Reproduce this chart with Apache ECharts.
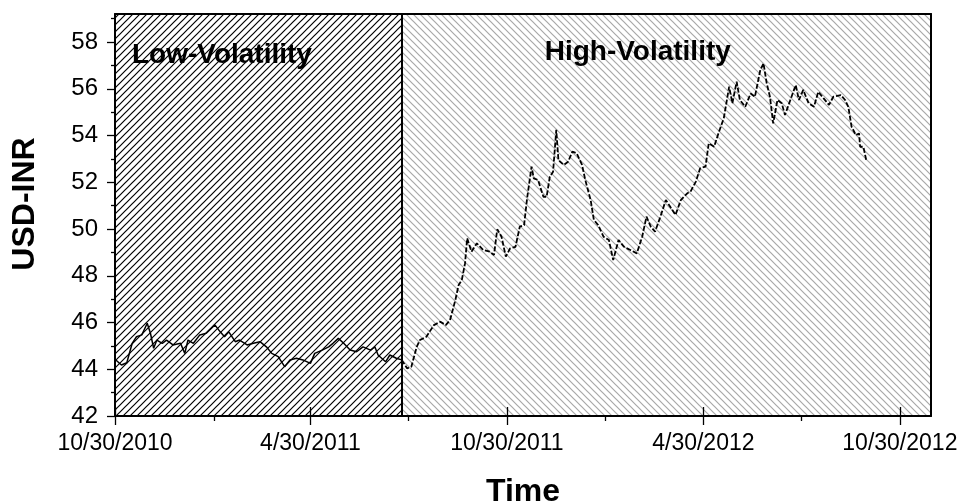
<!DOCTYPE html>
<html>
<head>
<meta charset="utf-8">
<script src="https://cdn.jsdelivr.net/npm/echarts@6/dist/echarts.min.js"></script>
<style>
  html, body { margin: 0; padding: 0; background: #fff; }
  #chart { width: 963px; height: 503px; }
</style>
</head>
<body>
<div id="chart"></div>
<script>
// low-volatility period (solid line)
const lowDates = [
  '2010-10-30', '2010-11-05', '2010-11-10', '2010-11-15', '2010-11-19', '2010-11-24', '2010-11-29',
  '2010-12-02', '2010-12-05', '2010-12-08', '2010-12-13', '2010-12-17', '2010-12-23', '2010-12-30',
  '2011-01-03', '2011-01-06', '2011-01-11', '2011-01-17', '2011-01-23', '2011-01-31',
  '2011-02-05', '2011-02-09', '2011-02-13', '2011-02-19', '2011-02-23',
  '2011-03-02', '2011-03-08', '2011-03-14', '2011-03-20', '2011-03-25', '2011-03-31',
  '2011-04-06', '2011-04-11', '2011-04-17', '2011-04-23', '2011-04-30',
  '2011-05-04', '2011-05-11', '2011-05-17', '2011-05-21', '2011-05-26', '2011-05-31',
  '2011-06-06', '2011-06-12', '2011-06-18', '2011-06-25', '2011-06-29',
  '2011-07-02', '2011-07-09', '2011-07-13', '2011-07-19', '2011-07-24'
];
const lowValues = [
  44.43, 44.18, 44.28, 45.11, 45.39, 45.47, 45.97,
  45.54, 44.90, 45.25, 45.11, 45.25, 45.04, 45.11,
  44.68, 45.25, 45.11, 45.47, 45.54, 45.90,
  45.60, 45.39, 45.60, 45.18, 45.25,
  45.04, 45.11, 45.18, 44.96, 44.68, 44.54,
  44.11, 44.40, 44.47, 44.40, 44.25,
  44.68, 44.82, 44.96, 45.11, 45.32, 45.11,
  44.82, 44.75, 44.96, 44.82, 44.96,
  44.61, 44.32, 44.61, 44.47, 44.40
];

// high-volatility period (dashed line)
const highDates = [
  '2011-07-24', '2011-07-29', '2011-08-02', '2011-08-07', '2011-08-10', '2011-08-16', '2011-08-23', '2011-08-29',
  '2011-09-03', '2011-09-07', '2011-09-12', '2011-09-15', '2011-09-18', '2011-09-21', '2011-09-23', '2011-09-27',
  '2011-10-02', '2011-10-08', '2011-10-14', '2011-10-18', '2011-10-21', '2011-10-25', '2011-10-29',
  '2011-11-02', '2011-11-07', '2011-11-11', '2011-11-15', '2011-11-18', '2011-11-22', '2011-11-24', '2011-11-28',
  '2011-12-03', '2011-12-06', '2011-12-09', '2011-12-12', '2011-12-15', '2011-12-17', '2011-12-22', '2011-12-26', '2011-12-30',
  '2012-01-03', '2012-01-08', '2012-01-11', '2012-01-16', '2012-01-19', '2012-01-23', '2012-01-28',
  '2012-02-02', '2012-02-06', '2012-02-11', '2012-02-16', '2012-02-22', '2012-02-28',
  '2012-03-04', '2012-03-08', '2012-03-12', '2012-03-16', '2012-03-21', '2012-03-26', '2012-03-30',
  '2012-04-04', '2012-04-09', '2012-04-15', '2012-04-18', '2012-04-23', '2012-04-27',
  '2012-05-02', '2012-05-05', '2012-05-10', '2012-05-14', '2012-05-19', '2012-05-24', '2012-05-27', '2012-05-31',
  '2012-06-03', '2012-06-08', '2012-06-13', '2012-06-17', '2012-06-22', '2012-06-25', '2012-06-28',
  '2012-07-01', '2012-07-04', '2012-07-08', '2012-07-12', '2012-07-15', '2012-07-20', '2012-07-25', '2012-07-28',
  '2012-08-01', '2012-08-06', '2012-08-11', '2012-08-15', '2012-08-20', '2012-08-25', '2012-08-29',
  '2012-09-05', '2012-09-09', '2012-09-12', '2012-09-15', '2012-09-19', '2012-09-22', '2012-09-23', '2012-09-26', '2012-09-29'
];
const highValues = [
  44.40, 44.04, 44.11, 44.96, 45.25, 45.39, 45.89, 46.03,
  45.89, 46.10, 46.96, 47.60, 47.82, 48.53, 49.60, 49.03,
  49.39, 49.10, 49.03, 48.89, 49.99, 49.67, 48.82,
  49.17, 49.24, 50.10, 50.17, 51.38, 52.67, 52.17, 52.10,
  51.38, 51.38, 52.24, 52.45, 54.24, 52.95, 52.74, 52.88, 53.31,
  53.24, 52.74, 52.10, 51.24, 50.39, 50.17, 49.67,
  49.53, 48.67, 49.53, 49.24, 49.10, 48.96,
  49.67, 50.53, 50.10, 49.89, 50.53, 51.24, 50.96,
  50.60, 51.24, 51.53, 51.60, 52.03, 52.60,
  52.67, 53.67, 53.52, 54.09, 54.74, 56.09, 55.38, 56.30,
  55.52, 55.23, 55.80, 55.66, 56.80, 57.09, 56.23,
  55.66, 54.52, 55.52, 55.38, 54.88, 55.52, 56.16, 55.52,
  55.95, 55.38, 55.23, 55.87, 55.59, 55.31, 55.66,
  55.73, 55.52, 55.23, 54.38, 54.02, 54.09, 53.52, 53.52, 52.88
];

const xStart = '2010-10-30';
const xEnd = '2012-11-28';
const regimeSplit = '2011-07-24';
const xMajorTicks = ['2010-10-30', '2011-04-30', '2011-10-30', '2012-04-30', '2012-10-30'];
const xMinorTicks = ['2011-01-30', '2011-07-30', '2012-01-30', '2012-07-30'];
const yMajorTicks = [42, 44, 46, 48, 50, 52, 54, 56, 58];
const yMinorTicks = [43, 45, 47, 49, 51, 53, 55, 57, 59];
const regimeNames = ['Low-Volatility', 'High-Volatility'];

const t = s => new Date(s + 'T00:00:00').getTime();
const fmtDate = v => {
  const d = new Date(v);
  return (d.getMonth() + 1) + '/' + d.getDate() + '/' + d.getFullYear();
};

// diagonal hatch tiles
function hatch(size, color, width, dir) {
  const c = document.createElement('canvas');
  c.width = c.height = size;
  const g = c.getContext('2d');
  g.strokeStyle = color;
  g.lineWidth = width;
  g.beginPath();
  if (dir === '/') {
    g.moveTo(-1, size + 1); g.lineTo(size + 1, -1);
    g.moveTo(-1, 1); g.lineTo(1, -1);
    g.moveTo(size - 1, size + 1); g.lineTo(size + 1, size - 1);
  } else {
    g.moveTo(-1, -1); g.lineTo(size + 1, size + 1);
    g.moveTo(size - 1, -1); g.lineTo(size + 1, 1);
    g.moveTo(-1, size - 1); g.lineTo(1, size + 1);
  }
  g.stroke();
  return c;
}
const lowHatch = { image: hatch(7, '#000', 1.2, '/'), repeat: 'repeat' };
const highHatch = { image: hatch(7, '#a8a8a8', 1.2, '\\'), repeat: 'repeat' };

const FONT = 'Liberation Sans, Arial, sans-serif';
const regimeLabel = {
  show: true, fontSize: 28, fontWeight: 'bold', color: '#000',
  fontFamily: FONT, align: 'left', verticalAlign: 'middle'
};

// x axis helper: value axis holding timestamps
function xAx(extra) {
  return Object.assign({
    type: 'value', position: 'bottom', min: t(xStart), max: t(xEnd), z: 10,
    axisLine: { show: false }, axisTick: { show: false },
    axisLabel: { show: false }, splitLine: { show: false }
  }, extra);
}
function yAx(extra) {
  return Object.assign({
    type: 'value', position: 'left', min: 42, max: 59.2, z: 10,
    axisLine: { show: false }, axisTick: { show: false },
    axisLabel: { show: false }, splitLine: { show: false }
  }, extra);
}

const chart = echarts.init(document.getElementById('chart'));
chart.setOption({
  backgroundColor: '#fff',
  animation: false,
  grid: { left: 115, right: 32, top: 14, bottom: 87, outerBoundsMode: 'none', containLabel: false },
  xAxis: [
    xAx({
      name: 'Time', nameLocation: 'middle', nameGap: 60,
      nameTextStyle: { fontSize: 32, fontWeight: 'bold', color: '#000', fontFamily: FONT },
      axisLine: { show: true, lineStyle: { color: '#000', width: 2 } },
      axisTick: { show: true, length: 9, lineStyle: { color: '#000', width: 1.3 }, customValues: xMajorTicks.map(t) },
      axisLabel: { show: true, fontSize: 23, margin: 16, color: '#000', fontFamily: FONT,
        customValues: xMajorTicks.map(t), formatter: fmtDate }
    }),
    xAx({
      axisTick: { show: true, inside: true, length: 9, lineStyle: { color: '#000', width: 1.3 }, customValues: xMajorTicks.map(t) }
    }),
    xAx({
      axisTick: { show: true, length: 5, lineStyle: { color: '#000', width: 1.3 }, customValues: xMinorTicks.map(t) }
    }),
    xAx({
      position: 'top',
      axisLine: { show: true, lineStyle: { color: '#000', width: 2 } }
    })
  ],
  yAxis: [
    yAx({
      name: 'USD-INR', nameLocation: 'middle', nameGap: 74,
      nameTextStyle: { fontSize: 32, fontWeight: 'bold', color: '#000', fontFamily: FONT, padding: [0, 0, 0, 22] },
      axisLine: { show: true, lineStyle: { color: '#000', width: 2 } },
      axisTick: { show: true, length: 8, lineStyle: { color: '#000', width: 1.3 }, customValues: yMajorTicks },
      axisLabel: { show: true, fontSize: 24, margin: 17, color: '#000', fontFamily: FONT, customValues: yMajorTicks }
    }),
    yAx({
      axisTick: { show: true, length: 4, lineStyle: { color: '#000', width: 1.3 }, customValues: yMinorTicks }
    }),
    yAx({
      position: 'right',
      axisLine: { show: true, lineStyle: { color: '#000', width: 2 } }
    })
  ],
  series: [
    {
      type: 'line', xAxisIndex: 0, yAxisIndex: 0, z: 1, data: [],
      markArea: {
        silent: true,
        data: [
          [
            { name: regimeNames[0], xAxis: t(xStart), itemStyle: { color: lowHatch },
              label: Object.assign({ position: [17, 41] }, regimeLabel) },
            { xAxis: t(regimeSplit) }
          ],
          [
            { name: regimeNames[1], xAxis: t(regimeSplit), itemStyle: { color: highHatch },
              label: Object.assign({ position: [143, 38] }, regimeLabel) },
            { xAxis: t(xEnd) }
          ]
        ]
      },
      markLine: {
        silent: true, symbol: 'none', label: { show: false },
        lineStyle: { color: '#000', width: 2, type: 'solid' },
        data: [{ xAxis: t(regimeSplit) }]
      }
    },
    {
      name: regimeNames[0], type: 'line', xAxisIndex: 0, yAxisIndex: 0, z: 3,
      showSymbol: false, symbol: 'none',
      lineStyle: { color: '#000', width: 1.5 },
      data: lowDates.map((d, i) => [t(d), lowValues[i]])
    },
    {
      name: regimeNames[1], type: 'line', xAxisIndex: 0, yAxisIndex: 0, z: 3,
      showSymbol: false, symbol: 'none',
      lineStyle: { color: '#000', width: 1.8, type: [5, 2] },
      data: highDates.map((d, i) => [t(d), highValues[i]])
    }
  ]
});
</script>
</body>
</html>
